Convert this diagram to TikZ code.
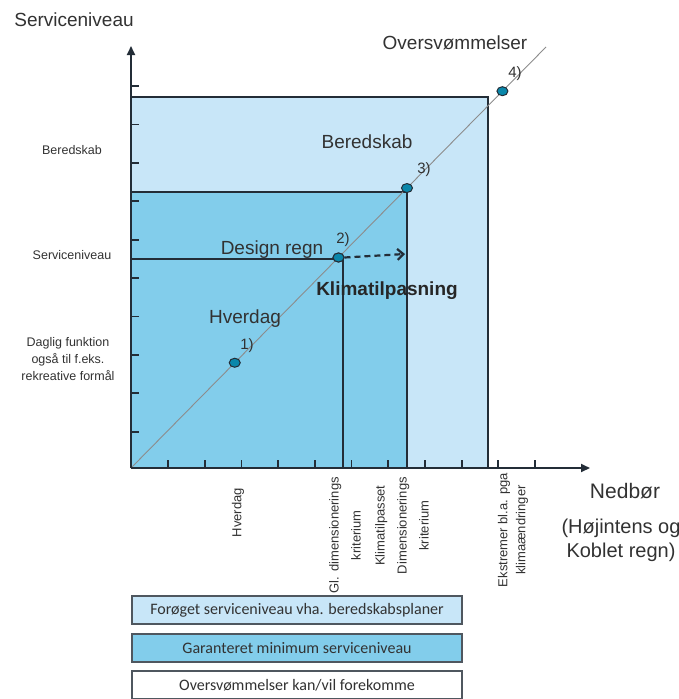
\documentclass[tikz,border=0pt]{standalone}
\usepackage{fontspec}
\setmainfont{Liberation Sans}
\newfontfamily\legendfont{Carlito}
\usetikzlibrary{shapes.geometric,arrows.meta}
\definecolor{lightblue}{RGB}{200,230,248}
\definecolor{midblue}{RGB}{130,205,235}
\definecolor{dotblue}{RGB}{10,135,170}
\definecolor{edge}{RGB}{35,45,55}
\definecolor{txt}{RGB}{50,50,50}
\begin{document}
\begin{tikzpicture}[x=1pt,y=-1pt,
  big/.style={text=txt,font=\fontsize{19}{24}\selectfont},
  small/.style={text=txt,font=\fontsize{12.5}{17}\selectfont,align=center},
  axlabel/.style={text=txt,font=\fontsize{13}{22}\selectfont,rotate=90,anchor=east,align=center,inner sep=0pt},
  num/.style={text=txt,font=\fontsize{15}{18}\selectfont},
  dot/.style={ellipse,draw=edge,fill=dotblue,line width=1pt,minimum width=11pt,minimum height=9pt,inner sep=0pt},
  legendbox/.style={draw=edge!80,line width=1.5pt,minimum width=330pt,minimum height=28pt,inner sep=0pt,font=\legendfont\fontsize{16}{18}\selectfont,text=txt}]
\useasboundingbox (0,0) rectangle (679,699);
% areas
\fill[lightblue] (131,97) rectangle (488,468);
\draw[edge,line width=1.8pt] (131,97) -- (488,97) -- (488,468);
\fill[midblue] (131,192) rectangle (407,468);
\draw[edge,line width=1.8pt] (131,192) -- (407,192) -- (407,468);
\coordinate (origin) at (131,468);
\coordinate (ytip) at (131,46);
\coordinate (xtip) at (590,468);
\coordinate (dend) at (546,47);
\coordinate (design) at (131,259);
\coordinate (designx) at (343,468);
\draw[edge,line width=1.8pt] (design) -- (343,259) -- (designx);
% diagonal
\draw[black!45,line width=0.9pt] (origin) -- (dend)
  node[dot,pos=0.25] (p1) {}
  node[dot,pos=0.5] (p2) {}
  node[dot,pos=0.665] (p3) {}
  node[dot,pos=0.895] (p4) {};
% axes
\draw[edge,line width=2pt,-{Triangle[length=9pt,width=8pt]}] (origin) -- (ytip);
\draw[edge,line width=2pt,-{Triangle[length=9pt,width=8pt]}] (origin) -- (xtip);
\foreach \y in {0,...,9} \draw[edge,line width=1.8pt] (131,86+38.4*\y) -- +(8,0);
\foreach \x in {0,...,10} \draw[edge,line width=1.8pt] (168+36.7*\x,468) -- +(0,-8);
% klimatilpasning arrow
\coordinate (klima) at (405,254);
\draw[edge,line width=2.2pt,dashed,dash pattern=on 6pt off 4pt,-{Straight Barb[length=6pt,width=11pt]}] (p2.east) -- (klima);
\node[dot] at (p2) {};
% point labels
\node[num] (n1) at (247,346) {1)};
\node[num] (n2) at (343,240) {2)};
\node[num] (n3) at (424,170) {3)};
\node[num] (n4) at (515,74) {4)};
% texts
\node[big] (ytitle) at (74,20) {Serviceniveau};
\node[big] (over) at (455,43) {Oversvømmelser};
\node[big] (bered) at (367,142) {Beredskab};
\node[big] (regn) at (272,250) {Design regn};
\node[big,font=\bfseries\fontsize{19}{24}\selectfont,text=black!85] (klimatxt) at (387,291) {Klimatilpasning};
\node[big] (hverdag) at (245,319) {Hverdag};
\node[big,font=\fontsize{21}{24}\selectfont] (nedbor) at (625,491) {Nedbør};
\node[big,font=\fontsize{20}{24}\selectfont,align=center] (regntype) at (621,540) {(Højintens og\\Koblet regn)};
% left labels
\node[small] (lb1) at (72,150) {Beredskab};
\node[small] (lb2) at (72,255) {Serviceniveau};
\node[small] (lb3) at (68,359) {Daglig funktion\\også til f.eks.\\rekreative formål};
% bottom labels
\node[axlabel] (bl1) at (238,488) {Hverdag};
\node[axlabel] (bl2) at (345,477) {Gl. dimensionerings\\kriterium};
\node[axlabel] (bl3) at (402,477) {Klimatilpasset\\Dimensionerings\\kriterium};
\node[axlabel,font=\fontsize{13}{18}\selectfont] (bl4) at (513,473) {Ekstremer bl.a. pga\\klimaændringer};
% legend
\node[legendbox,fill=lightblue] (leg1) at (297,610) {Forøget serviceniveau vha. beredskabsplaner};
\node[legendbox,fill=midblue] (leg2) at (297,648) {Garanteret minimum serviceniveau};
\node[legendbox,fill=white] (leg3) at (297,685) {Oversvømmelser kan/vil forekomme};
\end{tikzpicture}
\end{document}
